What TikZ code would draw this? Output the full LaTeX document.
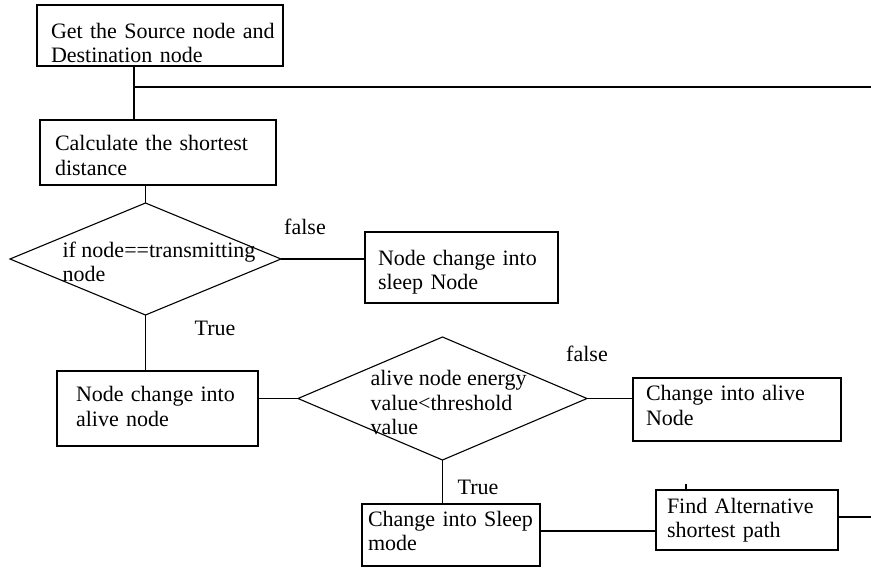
\documentclass[tikz,border=0pt]{standalone}
\usepackage{fontspec}
\setmainfont{Liberation Serif}
\usetikzlibrary{shapes.geometric,calc}
\newcommand\mytop[1]{\rule{0pt}{#1}}
\newcommand\mybot[1]{\rule[-#1]{0pt}{#1}}
\begin{document}
\begin{tikzpicture}[x=1pt,y=-1pt, line width=1.1pt,
  txt/.style={font=\fontsize{22}{24.5}\selectfont},
  box/.style={txt, draw, anchor=north west, align=left, inner ysep=0pt, outer sep=0pt},
  dia/.style={draw, diamond, inner sep=0pt, outer sep=0pt},
  lbl/.style={txt, inner sep=0pt}]
\useasboundingbox (0,0) rectangle (871,568);
% boxes
\node[box, text width=218pt, inner xsep=14pt, minimum height=61pt] (b1) at (37,5) {\mytop{30pt}\mbox{Get the Source node and}\\\mbox{Destination node}};
\node[box, text width=206pt, inner xsep=15pt, minimum height=65pt] (b2) at (40,120) {\mytop{21pt}\mbox{Calculate the shortest}\\distance};
\node[box, text width=167pt, inner xsep=13pt, minimum height=71pt] (b3) at (365,232) {\mytop{25pt}\mbox{Node change into}\\\mbox{sleep Node}};
\node[box, text width=163pt, inner xsep=19pt, minimum height=75pt] (b4) at (57,371) {\mbox{Node change into}\\\mbox{alive node}\mybot{4pt}};
\node[box, text width=182pt, inner xsep=13pt, minimum height=63pt] (b5) at (633,378) {\mbox{Change into alive}\\Node\mybot{8pt}};
\node[box, text width=166pt, inner xsep=6pt, minimum height=62pt] (b6) at (362,504) {\mbox{Change into Sleep}\\mode\mybot{8pt}};
\node[box, text width=160pt, inner xsep=11pt, minimum height=60pt] (b7) at (656,490) {\mbox{Find Alternative}\\\mbox{shortest path}};
% diamonds
\node[dia, minimum width=271pt, minimum height=112pt] (d1) at (145.5,259) {};
\node[dia, minimum width=289pt, minimum height=123pt] (d2) at (442.5,398.5) {};
\node[txt, anchor=north west, align=left, inner sep=0pt] (t1) at (62,241) {\mbox{if node==transmitting}\\node};
\node[txt, anchor=north west, align=left, inner sep=0pt] (t2) at (370,370) {\mbox{alive node energy}\\\mbox{value<threshold}\\value};
% labels
\node[lbl] (f1) at (305,227) {false};
\node[lbl] (tr1) at (215,328) {True};
\node[lbl] (f2) at (587,354) {false};
\node[lbl] (tr2) at (478,487) {True};
% coordinates
\coordinate (j1) at (134,87);
\coordinate (r1) at (871,87);
\coordinate (r2) at (871,517);
\coordinate (s1) at (686,484);
% connectors
\draw (j1 |- b1.south) -- (j1 |- b2.north);
\draw (j1) -- (r1);
\draw (d1.north |- b2.south) -- (d1.north);
\draw (d1.east) -- (d1.east -| b3.west);
\draw (d1.south) -- (d1.south |- b4.north);
\draw (d2.west -| b4.east) -- (d2.west);
\draw (d2.east) -- (d2.east -| b5.west);
\draw (d2.south) -- (d2.south |- b6.north);
\draw ([yshift=4pt]b6.east) -- ([yshift=4pt]b6.east -| b7.west);
\draw (r2 -| b7.east) -- (r2);
\draw (s1) -- (s1 |- b7.north);
\end{tikzpicture}
\end{document}
